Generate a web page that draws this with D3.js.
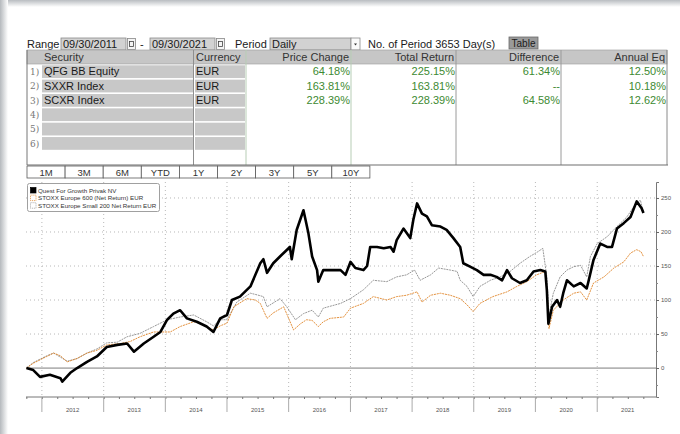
<!DOCTYPE html>
<meta charset="utf-8">
<style>
body { margin: 0; background: #fff; }
svg text { font-family: "Liberation Sans", Arial, sans-serif; }
.ctl { font-size: 11px; fill: #1a1a1a; }
.hdr { font-size: 11px; fill: #333; }
.val { font-size: 11px; fill: #3d8a32; text-anchor: end; }
.idx { font-size: 9px; fill: #777; font-family: "DejaVu Serif", serif; }
.btn { font-size: 9.5px; fill: #333; text-anchor: middle; }
.axis text { font-size: 6px; fill: #555; }
.legend text { font-size: 6.2px; fill: #333; }
</style>
<svg width="680" height="434"></svg>
<script src="https://d3js.org/d3.v7.min.js"></script>
<script>

// ---- table data ----
let securities = ["QFG BB Equity", "SXXR Index", "SCXR Index"];
let currencies = ["EUR", "EUR", "EUR"];
let columns = ["Price Change", "Total Return", "Difference", "Annual Eq"];
let priceChange = ["64.18%", "163.81%", "228.39%"];
let totalReturn = ["225.15%", "163.81%", "228.39%"];
let difference = ["61.34%", "--", "64.58%"];
let annualEq = ["12.50%", "10.18%", "12.62%"];
let periodButtons = ["1M", "3M", "6M", "YTD", "1Y", "2Y", "3Y", "5Y", "10Y"];

// ---- chart data (decimal year, % total return) ----
let seriesNames = ["Quest For Growth Privak NV", "STOXX Europe 600 (Net Return) EUR", "STOXX Europe Small 200 Net Return EUR"];
let yTicks = [0, 50, 100, 150, 200, 250];
let years = [2012, 2013, 2014, 2015, 2016, 2017, 2018, 2019, 2020, 2021];

let qfgYears = [2011.75, 2011.86, 2011.97, 2012.13, 2012.30, 2012.33, 2012.46, 2012.57, 2012.73, 2012.89,
	2013.05, 2013.22, 2013.38, 2013.49, 2013.65, 2013.81, 2013.92, 2014.03, 2014.13, 2014.24,
	2014.35, 2014.51, 2014.67, 2014.78, 2014.89, 2015.00, 2015.08, 2015.21, 2015.38, 2015.54,
	2015.59, 2015.65, 2015.75, 2015.86, 2015.94, 2016.02, 2016.05, 2016.13, 2016.24, 2016.32,
	2016.38, 2016.46, 2016.48, 2016.56, 2016.67, 2016.84, 2016.92, 2017.00, 2017.08, 2017.21,
	2017.27, 2017.32, 2017.43, 2017.54, 2017.65, 2017.70, 2017.75, 2017.86, 2017.97, 2018.02,
	2018.08, 2018.16, 2018.24, 2018.32, 2018.46, 2018.56, 2018.67, 2018.78, 2018.83, 2018.94,
	2019.05, 2019.16, 2019.27, 2019.37, 2019.46, 2019.54, 2019.62, 2019.75, 2019.86, 2019.97,
	2020.08, 2020.16, 2020.185, 2020.21, 2020.27, 2020.35, 2020.40, 2020.45, 2020.51, 2020.62,
	2020.73, 2020.83, 2020.86, 2020.94, 2021.05, 2021.16, 2021.24, 2021.32, 2021.43, 2021.54,
	2021.64, 2021.72, 2021.75];
let qfgValues = [0, -3, -13, -10, -15, -20, -7, 0, 9, 17,
	31, 34, 36, 24, 36, 46, 53, 71, 80, 85,
	73, 68, 61, 53, 73, 78, 100, 105, 120, 154,
	160, 140, 154, 164, 171, 178, 160, 203, 232, 198,
	164, 144, 127, 144, 144, 144, 137, 156, 147, 144,
	150, 178, 178, 176, 178, 171, 188, 205, 191, 218,
	242, 227, 223, 210, 208, 203, 191, 178, 154, 149,
	144, 137, 137, 134, 129, 144, 132, 125, 129, 142,
	144, 142, 115, 65, 90, 100, 90, 110, 129, 120,
	125, 117, 128, 159, 183, 178, 178, 205, 213, 222,
	245, 235, 228];

let sxxrYears = [2011.75, 2011.86, 2011.97, 2012.08, 2012.19, 2012.30, 2012.41, 2012.57, 2012.73, 2012.89,
	2013.05, 2013.27, 2013.43, 2013.59, 2013.81, 2013.92, 2014.08, 2014.24, 2014.46, 2014.56,
	2014.67, 2014.78, 2014.89, 2015.00, 2015.11, 2015.32, 2015.46, 2015.54, 2015.65, 2015.75,
	2015.92, 2016.08, 2016.19, 2016.29, 2016.38, 2016.48, 2016.56, 2016.67, 2016.89, 2017.00,
	2017.21, 2017.37, 2017.59, 2017.75, 2017.91, 2018.08, 2018.16, 2018.30, 2018.46, 2018.62,
	2018.78, 2018.89, 2018.99, 2019.10, 2019.31, 2019.54, 2019.70, 2019.86, 2020.02, 2020.16,
	2020.20, 2020.22, 2020.29, 2020.45, 2020.62, 2020.73, 2020.83, 2020.94, 2021.11, 2021.27,
	2021.43, 2021.54, 2021.64, 2021.71, 2021.75];
let sxxrValues = [0, 7, 12, 17, 22, 18, 9, 14, 22, 26,
	34, 36, 39, 46, 53, 53, 53, 61, 68, 66,
	61, 56, 62, 66, 90, 102, 100, 95, 73, 81,
	90, 56, 65, 71, 70, 61, 68, 73, 75, 88,
	95, 105, 100, 105, 107, 112, 97, 107, 110, 107,
	102, 93, 83, 95, 105, 112, 120, 127, 137, 142,
	95, 58, 85, 100, 110, 112, 100, 125, 134, 147,
	156, 169, 174, 171, 164];

let scxrYears = [2011.75, 2011.86, 2012.08, 2012.19, 2012.41, 2012.57, 2012.73, 2012.89, 2013.05, 2013.22,
	2013.38, 2013.59, 2013.81, 2014.03, 2014.24, 2014.46, 2014.67, 2014.78, 2014.89, 2015.00,
	2015.16, 2015.38, 2015.47, 2015.59, 2015.65, 2015.86, 2015.97, 2016.11, 2016.24, 2016.38,
	2016.48, 2016.56, 2016.84, 2017.00, 2017.21, 2017.37, 2017.59, 2017.75, 2017.91, 2018.04,
	2018.13, 2018.30, 2018.43, 2018.62, 2018.73, 2018.78, 2018.89, 2018.99, 2019.10, 2019.27,
	2019.43, 2019.59, 2019.75, 2019.91, 2020.04, 2020.12, 2020.185, 2020.22, 2020.29, 2020.40,
	2020.51, 2020.62, 2020.73, 2020.83, 2020.89, 2021.00, 2021.16, 2021.32, 2021.48, 2021.59,
	2021.70, 2021.75];
let scxrValues = [0, 8, 18, 22, 10, 14, 22, 28, 37, 38,
	46, 51, 61, 71, 75, 78, 68, 62, 71, 71,
	97, 110, 108, 105, 90, 102, 90, 71, 80, 85,
	75, 88, 95, 102, 115, 129, 127, 134, 137, 144,
	129, 137, 147, 144, 142, 129, 120, 105, 120, 129,
	134, 142, 154, 164, 171, 176, 134, 78, 110, 134,
	144, 149, 151, 134, 164, 183, 193, 208, 222, 237,
	247, 228];

function yearToDate(fy) {
	let y = Math.floor(fy);
	let a = new Date(y, 0, 1), b = new Date(y + 1, 0, 1);
	return new Date(+a + (fy - y) * (b - a));
}

let svg = d3.select("svg");

// ---- window frame ----
let defs = svg.append("defs");
let gTop = defs.append("linearGradient").attr("id", "gTop").attr("x1", 0).attr("y1", 0).attr("x2", 0).attr("y2", 1);
gTop.append("stop").attr("offset", 0).attr("stop-color", "#b9bdc1");
gTop.append("stop").attr("offset", 1).attr("stop-color", "#ffffff");
let gLeft = defs.append("linearGradient").attr("id", "gLeft").attr("x1", 0).attr("y1", 0).attr("x2", 1).attr("y2", 0);
gLeft.append("stop").attr("offset", 0).attr("stop-color", "#b5b9bd");
gLeft.append("stop").attr("offset", 1).attr("stop-color", "#ffffff");
svg.append("rect").attr("x", 0).attr("y", 0).attr("width", 680).attr("height", 7).attr("fill", "url(#gTop)");
svg.append("rect").attr("x", 0).attr("y", 0).attr("width", 8).attr("height", 434).attr("fill", "url(#gLeft)");

// ---- controls row ----
let ctl = svg.append("g");
ctl.append("text").attr("class", "ctl").attr("x", 27).attr("y", 47.5).text("Range");
function inputBox(x, w, label) {
	ctl.append("rect").attr("x", x).attr("y", 38).attr("width", w).attr("height", 12)
		.attr("fill", "#d2d2d2").attr("stroke", "#8a8a8a").attr("stroke-width", 0.8);
	ctl.append("text").attr("class", "ctl").attr("x", x + 2).attr("y", 47.5).text(label);
}
function calIcon(x) {
	ctl.append("rect").attr("x", x).attr("y", 38.5).attr("width", 8).attr("height", 11)
		.attr("fill", "#f4f4f4").attr("stroke", "#888").attr("stroke-width", 0.8);
	ctl.append("rect").attr("x", x + 2).attr("y", 41.5).attr("width", 4).attr("height", 5)
		.attr("fill", "none").attr("stroke", "#444").attr("stroke-width", 0.8);
}
inputBox(61, 65, "09/30/2011");
calIcon(127.5);
ctl.append("text").attr("class", "ctl").attr("x", 140).attr("y", 47.5).text("-");
inputBox(150, 65, "09/30/2021");
calIcon(216.5);
ctl.append("text").attr("class", "ctl").attr("x", 235).attr("y", 47.5).text("Period");
inputBox(270, 81, "Daily");
ctl.append("rect").attr("x", 351).attr("y", 38).attr("width", 9).attr("height", 12)
	.attr("fill", "#fafafa").attr("stroke", "#8a8a8a").attr("stroke-width", 0.8);
ctl.append("path").attr("d", "M354,43.5 l3,0 l-1.5,2 z").attr("fill", "#333");
ctl.append("text").attr("class", "ctl").attr("x", 368).attr("y", 47.5).text("No. of Period 3653 Day(s)");
ctl.append("rect").attr("x", 509).attr("y", 37).attr("width", 29).attr("height", 12)
	.attr("fill", "#9a9a9a").attr("stroke", "#6a6a6a").attr("stroke-width", 0.8);
ctl.append("text").attr("class", "ctl").attr("x", 523.5).attr("y", 46.5).attr("text-anchor", "middle")
	.style("font-size", "10px").text("Table");

// ---- table ----
let tbl = svg.append("g");
let colEdges = [27, 41, 194, 246, 351, 456, 561, 667];
let headTop = 50, headH = 14, rowTop = 64.5, rowH = 14.35, nRows = 6, tblBottom = 165;

tbl.append("rect").attr("x", 27).attr("y", headTop).attr("width", 640).attr("height", headH)
	.attr("fill", "#c6c6c6").attr("stroke", "#9a9a9a").attr("stroke-width", 0.6);
tbl.append("text").attr("class", "hdr").attr("x", 44).attr("y", headTop + 11).text("Security");
tbl.append("text").attr("class", "hdr").attr("x", 196).attr("y", headTop + 11).text("Currency");
columns.forEach(function(c, i) {
	tbl.append("text").attr("class", "hdr").attr("x", colEdges[i + 4] - 2).attr("y", headTop + 11)
		.attr("text-anchor", "end").text(c);
});

d3.range(nRows).forEach(function(r) {
	let y = rowTop + r * rowH;
	tbl.append("rect").attr("x", 42).attr("y", y + 0.8).attr("width", 151).attr("height", rowH - 1.6).attr("fill", "#c8c8c8");
	tbl.append("rect").attr("x", 195).attr("y", y + 0.8).attr("width", 50).attr("height", rowH - 1.6).attr("fill", "#c8c8c8");
	tbl.append("text").attr("class", "idx").attr("x", 30).attr("y", y + 10.5).text((r + 1) + ")");
});

securities.forEach(function(s, r) {
	let y = rowTop + r * rowH + 10.8;
	tbl.append("text").attr("class", "hdr").attr("x", 44).attr("y", y).style("fill", "#1a1a1a").text(s);
	tbl.append("text").attr("class", "hdr").attr("x", 196).attr("y", y).style("fill", "#1a1a1a").text(currencies[r]);
	[priceChange, totalReturn, difference, annualEq].forEach(function(arr, i) {
		tbl.append("text").attr("class", "val").attr("x", colEdges[i + 4] - 1).attr("y", y).text(arr[r]);
	});
});

// vertical separators
[[193.5, "#8f8f8f"], [246, "#b7cdb5"], [351, "#b7cdb5"], [456, "#9a9a9a"], [561, "#9a9a9a"], [667, "#8a8a8a"]].forEach(function(d) {
	tbl.append("line").attr("x1", d[0]).attr("x2", d[0]).attr("y1", headTop).attr("y2", tblBottom)
		.attr("stroke", d[1]).attr("stroke-width", 1);
});
tbl.append("line").attr("x1", 27).attr("x2", 27).attr("y1", headTop).attr("y2", tblBottom).attr("stroke", "#777");
tbl.append("line").attr("x1", 27).attr("x2", 668).attr("y1", tblBottom).attr("y2", tblBottom).attr("stroke", "#6f6f6f").attr("stroke-width", 1.2);

// period buttons
let btnW = 38.1;
periodButtons.forEach(function(b, i) {
	let x = 27 + i * btnW;
	tbl.append("rect").attr("x", x).attr("y", 166).attr("width", btnW).attr("height", 12)
		.attr("fill", "#fff").attr("stroke", "#5a5a5a").attr("stroke-width", 0.8);
	tbl.append("text").attr("class", "btn").attr("x", x + btnW / 2).attr("y", 175.5).text(b);
});

// ---- chart ----
let x = d3.scaleTime()
	.domain([new Date(2011, 8, 29), new Date(2021, 11, 15)])
	.range([26, 656]);
let y = d3.scaleLinear()
	.domain([-42.6, 273.5])
	.range([397, 182]);

let chart = svg.append("g");

// grid
chart.selectAll(".hgrid").data(yTicks.filter(function(t) { return t !== 0; })).enter().append("line")
	.attr("x1", 26).attr("x2", 656)
	.attr("y1", function(d) { return y(d); }).attr("y2", function(d) { return y(d); })
	.attr("stroke", "#b8b8b8").attr("stroke-width", 1).attr("stroke-dasharray", "1,3");
chart.selectAll(".vgrid").data(years).enter().append("line")
	.attr("x1", function(d) { return x(new Date(d, 0, 1)); }).attr("x2", function(d) { return x(new Date(d, 0, 1)); })
	.attr("y1", 182).attr("y2", 397)
	.attr("stroke", "#b8b8b8").attr("stroke-width", 1).attr("stroke-dasharray", "1,3");
chart.append("line").attr("x1", 26).attr("x2", 656).attr("y1", y(0)).attr("y2", y(0))
	.attr("stroke", "#b4b4b4").attr("stroke-width", 1.8);

// series
let line = d3.line()
	.x(function(d) { return x(d[0]); })
	.y(function(d) { return y(d[1]); });
function pts(ts, vs) { return ts.map(function(t, i) { return [yearToDate(t), vs[i]]; }); }

chart.append("path").datum(pts(scxrYears, scxrValues)).attr("d", line)
	.attr("fill", "none").attr("stroke", "#8c8c8c").attr("stroke-width", 0.9).attr("stroke-dasharray", "2,0.8");
chart.append("path").datum(pts(sxxrYears, sxxrValues)).attr("d", line)
	.attr("fill", "none").attr("stroke", "#e0862a").attr("stroke-width", 0.9).attr("stroke-dasharray", "2,0.8");
chart.append("path").datum(pts(qfgYears, qfgValues)).attr("d", line)
	.attr("fill", "none").attr("stroke", "#000").attr("stroke-width", 2.6).attr("stroke-linejoin", "round");

// right axis
let yAxis = d3.axisRight(y).tickValues(yTicks).tickSize(3).tickPadding(2);
let ya = chart.append("g").attr("class", "axis").attr("transform", "translate(656,0)").call(yAxis);
ya.select(".domain").attr("stroke", "#777");
ya.selectAll(".tick line").attr("stroke", "#666");
chart.append("g").attr("class", "axis").attr("transform", "translate(656,0)")
	.call(d3.axisRight(y).tickValues([-25, 25, 75, 125, 175, 225]).tickSize(2).tickFormat(""))
	.call(function(g) { g.select(".domain").remove(); g.selectAll("line").attr("stroke", "#888"); });

// bottom axis
let xa = chart.append("g").attr("class", "axis").attr("transform", "translate(0,397)")
	.call(d3.axisBottom(x).ticks(d3.timeMonth.every(3)).tickSize(2).tickFormat(""));
xa.select(".domain").attr("stroke", "#777").attr("d", "M26,0H656");
xa.selectAll(".tick line").attr("stroke", "#777");
chart.selectAll(".ytick").data(years).enter().append("line")
	.attr("x1", function(d) { return x(new Date(d, 0, 1)); }).attr("x2", function(d) { return x(new Date(d, 0, 1)); })
	.attr("y1", 397).attr("y2", 412).attr("stroke", "#aaa");
chart.append("g").attr("class", "axis").selectAll("text").data(years).enter().append("text")
	.attr("x", function(d) { return x(new Date(d, 6, 1)); }).attr("y", 412)
	.attr("text-anchor", "middle").text(function(d) { return d; });

// legend
let lg = svg.append("g").attr("class", "legend");
lg.append("rect").attr("x", 27.5).attr("y", 183.5).attr("width", 132).attr("height", 28).attr("rx", 2)
	.attr("fill", "#fff").attr("stroke", "#a0a0a0");
let legendStyle = [["#000", "#000", null], ["none", "#e0862a", "1.2,0.8"], ["none", "#999", "1.2,0.8"]];
seriesNames.forEach(function(n, i) {
	let cy = 190.5 + i * 7.6;
	lg.append("rect").attr("x", 30.5).attr("y", cy - 3).attr("width", 5.5).attr("height", 5.5)
		.attr("fill", legendStyle[i][0]).attr("stroke", legendStyle[i][1]).attr("stroke-width", 0.7)
		.attr("stroke-dasharray", legendStyle[i][2]);
	lg.append("text").attr("x", 38).attr("y", cy + 2.3).text(n);
});

</script>
